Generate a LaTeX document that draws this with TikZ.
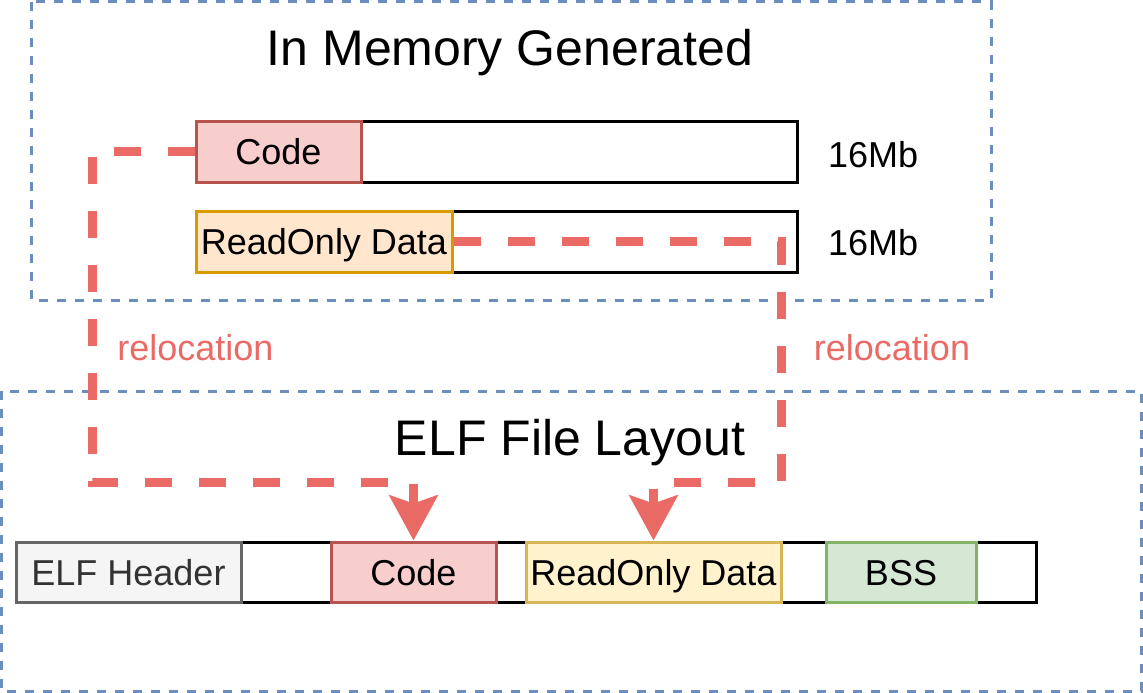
\documentclass[tikz,border=0pt]{standalone}
\usepackage{fontspec}
\setmainfont{Liberation Sans}
\usetikzlibrary{arrows.meta}
\definecolor{redfill}{HTML}{F8CECC}
\definecolor{redline}{HTML}{B85450}
\definecolor{orfill}{HTML}{FFE6CC}
\definecolor{orline}{HTML}{D79B00}
\definecolor{yefill}{HTML}{FFF2CC}
\definecolor{yeline}{HTML}{D6B656}
\definecolor{grfill}{HTML}{D5E8D4}
\definecolor{grline}{HTML}{82B366}
\definecolor{gyfill}{HTML}{F5F5F5}
\definecolor{gyline}{HTML}{666666}
\definecolor{gytext}{HTML}{333333}
\definecolor{blueline}{HTML}{6C8EBF}
\definecolor{relred}{HTML}{EA6B66}
\tikzset{
  box/.style={draw, line width=3pt, inner sep=0pt, minimum height=61pt,
    text height=26pt, text depth=0pt, font=\fontsize{36}{40}\selectfont},
  group/.style={draw=blueline, line width=3pt, dash pattern=on 9pt off 9pt},
  reloc/.style={draw=relred, line width=9pt, dash pattern=on 27pt off 27pt,
    -{Stealth[length=45pt, width=48pt, inset=8pt]}},
  lbl/.style={font=\fontsize{36}{40}\selectfont, inner sep=0pt},
  title/.style={inner sep=0pt, anchor=base, font=\fontsize{50}{56}\selectfont},
}
\begin{document}
\begin{tikzpicture}[x=1pt, y=-1pt]
\useasboundingbox (0,0) rectangle (1143,693);
% groups
\draw[group] (31,2) rectangle (991,300);
\draw[group] (1,391) rectangle (1141,691);
\node[title] (t1) at (510,66) {In Memory Generated};
\node[title] (t2) at (570,455) {ELF File Layout};
% top rows
\node[box, minimum width=601pt] (longA) at (496.5,151.5) {};
\node[box, minimum width=165pt, fill=redfill, draw=redline] (codeT) at (278.5,151.5) {Code};
\node[box, minimum width=601pt] (longB) at (496.5,241.5) {};
\node[box, minimum width=256pt, fill=orfill, draw=orline] (roT) at (324,241.5) {ReadOnly Data};
\node[lbl, anchor=west] (sizeA) at (828,155) {16Mb};
\node[lbl, anchor=west] (sizeB) at (828,243) {16Mb};
% bottom row
\node[box, minimum width=1020pt, minimum height=60pt] (row) at (526,572) {};
\node[box, minimum width=225pt, minimum height=60pt, fill=gyfill, draw=gyline, text=gytext] (hdr) at (128.5,572) {ELF Header};
\node[box, minimum width=165pt, minimum height=60pt, fill=redfill, draw=redline] (codeB) at (413.5,572) {Code};
\node[box, minimum width=255pt, minimum height=60pt, fill=yefill, draw=yeline] (roB) at (653.5,572) {ReadOnly Data};
\node[box, minimum width=150pt, minimum height=60pt, fill=grfill, draw=grline] (bss) at (901,572) {BSS};
% relocation labels
\node[lbl, text=relred] (relL) at (195.5,348) {relocation};
\node[lbl, text=relred] (relR) at (892,348) {relocation};
% connectors
\coordinate (l1) at (92,482);
\coordinate (r1) at (781,482);
\draw[reloc] (codeT.west) -| (l1) -| (codeB.north);
\draw[reloc] (roT.east) -| (r1) -| (roB.north);
\end{tikzpicture}
\end{document}
